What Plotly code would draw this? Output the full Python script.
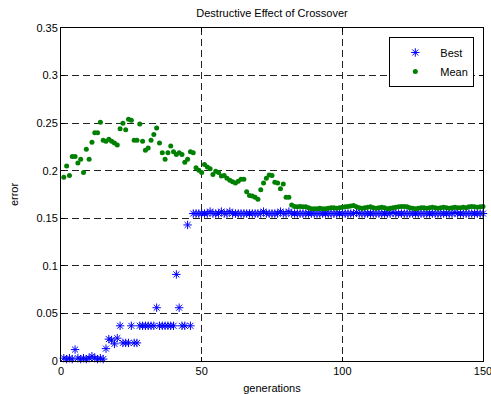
import plotly.graph_objects as go

# generation index 1..150
generations = list(range(1, 151))

# best error per generation
best = (
    [0.003, 0.002, 0.003, 0.002, 0.012, 0.003, 0.002, 0.003, 0.002, 0.003,
     0.005, 0.003, 0.002, 0.003, 0.002, 0.013, 0.023, 0.022, 0.018, 0.024,
     0.037, 0.019, 0.019, 0.019, 0.037, 0.019, 0.019, 0.037, 0.037, 0.037,
     0.037, 0.037, 0.037, 0.056, 0.037, 0.037, 0.037, 0.037, 0.037, 0.037,
     0.091, 0.056, 0.037, 0.037, 0.143, 0.037, 0.155, 0.155, 0.155, 0.155,
     0.155, 0.155, 0.157, 0.155, 0.155, 0.155, 0.157, 0.155, 0.155, 0.157,
     0.155, 0.155, 0.155, 0.155, 0.155, 0.155, 0.155, 0.155, 0.155, 0.155,
     0.155, 0.157, 0.155, 0.155, 0.155, 0.155, 0.155, 0.157, 0.155, 0.155,
     0.157, 0.155, 0.155, 0.155, 0.155, 0.155, 0.155, 0.155, 0.155, 0.155,
     0.155, 0.155, 0.155, 0.155, 0.155, 0.155, 0.155, 0.155, 0.155, 0.155,
     0.155, 0.155, 0.155, 0.155, 0.156, 0.155, 0.155, 0.155, 0.155, 0.155,
     0.155, 0.155, 0.155, 0.155, 0.155, 0.155, 0.155, 0.156, 0.155, 0.155,
     0.155, 0.155, 0.155, 0.155, 0.155, 0.155, 0.155, 0.155, 0.155, 0.155,
     0.155, 0.155, 0.155, 0.155, 0.155, 0.155, 0.155, 0.155, 0.155, 0.156,
     0.155, 0.155, 0.155, 0.155, 0.155, 0.155, 0.155, 0.155, 0.155, 0.155]
)

# mean population error per generation
mean = (
    [0.193, 0.205, 0.195, 0.215, 0.215, 0.208, 0.212, 0.198, 0.2225, 0.212,
     0.230, 0.240, 0.240, 0.251, 0.232, 0.231, 0.233, 0.231, 0.229, 0.227,
     0.244, 0.250, 0.243, 0.254, 0.253, 0.232, 0.232, 0.249, 0.231, 0.2215,
     0.224, 0.232, 0.238, 0.245, 0.229, 0.219, 0.212, 0.219, 0.226, 0.220,
     0.217, 0.219, 0.217, 0.209, 0.212, 0.220, 0.219, 0.203, 0.2005, 0.198,
     0.2065, 0.204, 0.202, 0.196, 0.1995, 0.198, 0.1945, 0.195, 0.192, 0.190,
     0.1885, 0.187, 0.189, 0.191, 0.191, 0.178, 0.174, 0.1735, 0.172, 0.170,
     0.180, 0.187, 0.192, 0.1955, 0.195, 0.188, 0.187, 0.181, 0.186, 0.172,
     0.172, 0.164, 0.1625, 0.162, 0.1625, 0.162, 0.162, 0.161, 0.160, 0.160,
     0.160, 0.1605, 0.160, 0.160, 0.1605, 0.161, 0.161, 0.1605, 0.161, 0.1615,
     0.162, 0.1625, 0.163, 0.1635, 0.162, 0.161, 0.1605, 0.161, 0.1615, 0.162,
     0.161, 0.1605, 0.161, 0.1615, 0.161, 0.160, 0.1605, 0.161, 0.1615, 0.162,
     0.1625, 0.1625, 0.162, 0.161, 0.1605, 0.160, 0.1605, 0.161, 0.161, 0.1605,
     0.161, 0.1615, 0.161, 0.1605, 0.161, 0.1615, 0.161, 0.1605, 0.161, 0.1615,
     0.161, 0.161, 0.1615, 0.161, 0.162, 0.1625, 0.162, 0.1615, 0.162, 0.1625]
)

x_ticks = [0, 50, 100, 150]
y_ticks = [0, 0.05, 0.1, 0.15, 0.2, 0.25, 0.3, 0.35]
y_tick_labels = ["0", "0.05", "0.1", "0.15", "0.2", "0.25", "0.3", "0.35"]

FONT = "Liberation Sans, Arial, sans-serif"

fig = go.Figure()
fig.add_trace(go.Scatter(
    x=generations, y=best, mode="markers", name="Best", cliponaxis=False,
    marker=dict(symbol="asterisk-open", size=7, color="#0000ff",
                line=dict(color="#0000ff", width=1)),
))
fig.add_trace(go.Scatter(
    x=generations, y=mean, mode="markers", name="Mean", cliponaxis=False,
    marker=dict(symbol="circle", size=5, color="#008000"),
))

axis_common = dict(
    showline=True, linecolor="black", linewidth=1, mirror="ticks",
    ticks="inside", ticklen=4, tickcolor="black",
    showgrid=True, gridcolor="#222222", gridwidth=1, griddash="7px,4px",
    zeroline=False, ticklabeloverflow="allow",
    tickfont=dict(family=FONT, size=11, color="black"),
)

fig.update_xaxes(
    range=[0, 150], tickvals=x_ticks, automargin=False,
    title=dict(text="generations", font=dict(family=FONT, size=11, color="black"), standoff=11),
    **axis_common,
)
fig.update_yaxes(
    range=[0, 0.35], tickvals=y_ticks, ticktext=y_tick_labels, automargin=False,
    title=dict(text="error", font=dict(family=FONT, size=11, color="black"), standoff=15),
    **axis_common,
)

fig.update_layout(
    width=491, height=394,
    margin=dict(l=61, r=8, t=28, b=33),
    paper_bgcolor="white", plot_bgcolor="white",
    title=dict(text="Destructive Effect of Crossover", x=0.554, xanchor="center",
               y=0.967, yanchor="middle",
               font=dict(family=FONT, size=11, color="black")),
    legend=dict(x=0.778, y=0.973, xanchor="left", yanchor="top",
                bgcolor="white", bordercolor="black", borderwidth=1,
                font=dict(family=FONT, size=11, color="black"),
                itemwidth=40, entrywidth=95, entrywidthmode="pixels",
                tracegroupgap=0),
    showlegend=True,
)

fig.write_html("out.html")
